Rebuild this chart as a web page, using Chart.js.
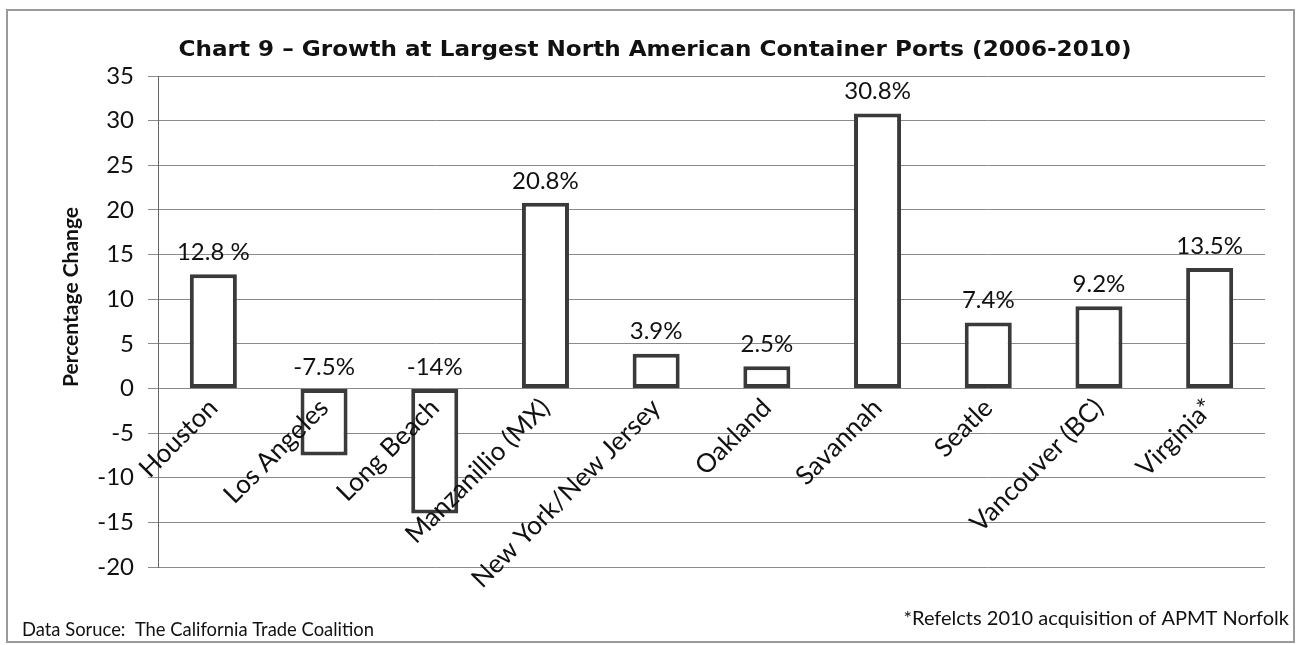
<!DOCTYPE html>
<html>
<head>
<meta charset="utf-8">
<script src="https://cdn.jsdelivr.net/npm/chart.js@4.4.1/dist/chart.umd.min.js"></script>
<style>
  body { margin: 0; background: #fff; }
  #wrap { width: 1297px; height: 645px; }
</style>
</head>
<body>
<div id="wrap"><canvas id="chart" width="1297" height="645"></canvas></div>
<script>
// data
const ports = ['Houston', 'Los Angeles', 'Long Beach', 'Manzanillio (MX)', 'New York/New Jersey',
  'Oakland', 'Savannah', 'Seatle', 'Vancouver (BC)', 'Virginia*'];
const growth = [12.8, -7.5, -14, 20.8, 3.9, 2.5, 30.8, 7.4, 9.2, 13.5];
const growthLabels = ['12.8 %', '-7.5%', '-14%', '20.8%', '3.9%', '2.5%', '30.8%', '7.4%', '9.2%', '13.5%'];
const yMin = -20;
const yMax = 35;
const yStep = 5;

const chartTitle = 'Chart 9 \u2013 Growth at Largest North American Container Ports (2006-2010)';
const yTitle = 'Percentage Change';
const sourceNote = 'Data Soruce:  The California Trade Coalition';
const footNote = '*Refelcts 2010 acquisition of APMT Norfolk';

const textFont = 'Lato, "Open Sans", sans-serif';

const extras = {
  id: 'extras',
  afterDraw(chart) {
    const ctx = chart.ctx;
    ctx.save();
    // frame round the whole picture
    ctx.strokeStyle = '#9a9a9a';
    ctx.lineWidth = 2;
    ctx.strokeRect(7, 10, 1287, 632);

    ctx.fillStyle = '#111';
    ctx.textAlign = 'center';
    ctx.textBaseline = 'middle';

    // title, stretched to the width it has in the scan
    ctx.save();
    ctx.font = 'bold 22px "DejaVu Sans", "Liberation Sans", sans-serif';
    const w = ctx.measureText(chartTitle).width;
    ctx.translate(655, 50);
    ctx.scale(953 / w, 1);
    ctx.fillText(chartTitle, 0, 0);
    ctx.restore();

    // value labels
    ctx.font = '24px ' + textFont;
    const meta = chart.getDatasetMeta(0);
    meta.data.forEach((bar, i) => {
      const top = growth[i] >= 0 ? bar.y : bar.base;
      ctx.fillText(growthLabels[i], bar.x, top - 22);
    });

    // y title
    ctx.save();
    ctx.translate(71, 297);
    ctx.rotate(-Math.PI / 2);
    ctx.font = 'bold 21px ' + textFont;
    ctx.fillText(yTitle, 0, 0);
    ctx.restore();

    ctx.font = '20px ' + textFont;
    ctx.textAlign = 'left';
    ctx.fillText(sourceNote, 22, 630, 352);
    ctx.textAlign = 'right';
    ctx.fillText(footNote, 1289, 619, 392);
    ctx.restore();
  }
};

new Chart(document.getElementById('chart'), {
  type: 'bar',
  data: {
    labels: ports,
    datasets: [
      {
        label: 'Growth',
        data: growth,
        backgroundColor: '#ffffff',
        borderColor: '#3a3a3a',
        borderWidth: 4,
        borderSkipped: false,
        categoryPercentage: 1,
        barPercentage: 0.425,
      },
    ],
  },
  options: {
    responsive: false,
    animation: false,
    layout: { padding: { left: 0, top: 76, right: 32, bottom: 78 } },
    plugins: {
      legend: { display: false },
      tooltip: { enabled: false },
    },
    scales: {
      x: {
        position: { y: 0 },
        offset: true,
        grid: { display: false, drawTicks: false },
        border: { display: false },
        ticks: {
          z: 1,
          autoSkip: false,
          minRotation: 45,
          maxRotation: 45,
          padding: 4,
          color: '#111',
          font: { family: textFont, size: 26 },
        },
      },
      y: {
        min: yMin,
        max: yMax,
        afterFit: (scale) => { scale.width = 158; },
        ticks: {
          stepSize: yStep,
          padding: 14,
          color: '#111',
          font: { family: textFont, size: 24 },
        },
        grid: { color: '#8a8a8a', lineWidth: 1, tickLength: 10 },
        border: { display: true, color: '#666', width: 1 },
      },
    },
  },
  plugins: [extras],
});
</script>
</body>
</html>
